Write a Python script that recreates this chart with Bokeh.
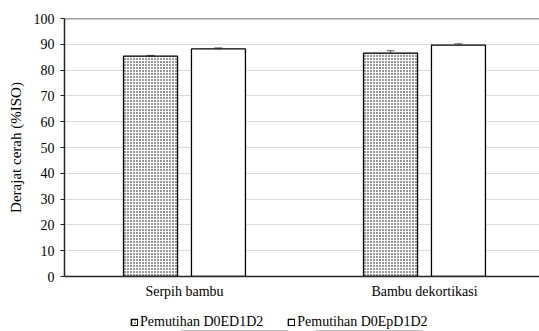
from bokeh.plotting import figure
from bokeh.layouts import column
from bokeh.models import (ColumnDataSource, Range1d, FixedTicker, Whisker, Span,
                          Legend, LegendItem)
from bokeh.embed import file_html
from bokeh.resources import INLINE

# ---- data ----
categories = ["Serpih bambu", "Bambu dekortikasi"]
series_names = ["Pemutihan D0ED1D2", "Pemutihan D0EpD1D2"]
d0ed1d2 = [85.4, 86.6]
d0epd1d2 = [88.2, 89.7]
err_d0ed1d2 = [0.3, 0.9]
err_d0epd1d2 = [0.4, 0.5]
y_ticks = list(range(0, 101, 10))

FONT = "Liberation Serif"
cat_pos = [i + 0.5 for i in range(len(categories))]
offset = 0.1415
bar_w = 0.225

style1 = dict(fill_color="white", line_color="black", line_width=1.3,
              hatch_pattern="dot", hatch_color="black", hatch_scale=3,
              hatch_weight=1.2)
style2 = dict(fill_color="white", line_color="black", line_width=1.3)


def make_source(vals, errs, sign):
    return ColumnDataSource(dict(x=[c + sign * offset for c in cat_pos], top=vals,
                                 upper=[v + e for v, e in zip(vals, errs)],
                                 lower=[v - e for v, e in zip(vals, errs)]))


p = figure(width=539, height=308, output_backend="svg", toolbar_location=None,
           x_range=Range1d(0, 475 / 240), y_range=Range1d(0, 100),
           min_border_left=64, min_border_right=0, min_border_top=18,
           min_border_bottom=32)
p.outline_line_color = None
p.background_fill_color = "white"

s1 = make_source(d0ed1d2, err_d0ed1d2, -1)
s2 = make_source(d0epd1d2, err_d0epd1d2, +1)

p.vbar(x="x", top="top", width=bar_w, bottom=0, source=s1, **style1)
p.vbar(x="x", top="top", width=bar_w, bottom=0, source=s2, **style2)

for s in (s1, s2):
    w = Whisker(base="x", upper="upper", lower="lower", source=s,
                line_color="#595959", line_width=1)
    w.upper_head.size = 8
    w.lower_head.size = 8
    w.upper_head.line_color = "#595959"
    w.lower_head.line_color = "#595959"
    p.add_layout(w)

p.add_layout(Span(location=100, dimension="width", line_color="#404040",
                  line_width=1.5))

# grid / axes
p.xgrid.grid_line_color = None
p.ygrid.grid_line_color = "#d9d9d9"
p.ygrid.grid_line_width = 1
p.yaxis.ticker = FixedTicker(ticks=y_ticks)
p.xaxis.ticker = FixedTicker(ticks=cat_pos)
p.xaxis.major_label_overrides = {c: n for c, n in zip(cat_pos, categories)}

for ax in (p.xaxis, p.yaxis):
    ax.axis_line_color = "#262626"
    ax.axis_line_width = 1.5
    ax.major_label_text_font = FONT
    ax.major_label_text_font_size = "14px"
    ax.major_label_text_color = "black"
    ax.minor_tick_line_color = None

p.xaxis.major_tick_line_color = None
p.xaxis.major_tick_out = 0
p.xaxis.major_tick_in = 0
p.xaxis.major_label_standoff = 7
p.yaxis.major_tick_line_color = "#262626"
p.yaxis.major_tick_out = 4
p.yaxis.major_tick_in = 0
p.yaxis.major_label_standoff = 6
p.yaxis.axis_label = "Derajat cerah (%ISO)"
p.yaxis.axis_label_text_font = FONT
p.yaxis.axis_label_text_font_size = "15px"
p.yaxis.axis_label_text_font_style = "normal"
p.yaxis.axis_label_text_color = "black"
p.yaxis.axis_label_standoff = 7

# ---- legend strip below the chart (bars kept out of its view) ----
lg = figure(width=539, height=23, output_backend="svg", toolbar_location=None,
            x_range=Range1d(0, 1), y_range=Range1d(1000, 1001),
            min_border=0, min_border_left=0, min_border_right=0,
            min_border_top=0, min_border_bottom=0)
lg.axis.visible = False
lg.grid.visible = False
lg.outline_line_color = None
e1 = lg.vbar(x="x", top="top", width=bar_w, bottom=0,
             source=make_source(d0ed1d2, err_d0ed1d2, -1), **style1)
e2 = lg.vbar(x="x", top="top", width=bar_w, bottom=0,
             source=make_source(d0epd1d2, err_d0epd1d2, +1), **style2)

legend = Legend(items=[LegendItem(label=series_names[0], renderers=[e1]),
                       LegendItem(label=series_names[1], renderers=[e2])],
                orientation="horizontal", location=(66, 1),
                border_line_color=None, background_fill_alpha=0,
                label_text_font=FONT, label_text_font_size="14px",
                label_text_color="black", glyph_width=8, glyph_height=8,
                label_height=14, label_standoff=2, spacing=24, padding=0,
                margin=0)
lg.add_layout(legend, "center")

layout = column(p, lg, spacing=0)
open("out.html", "w").write(file_html(layout, INLINE))
